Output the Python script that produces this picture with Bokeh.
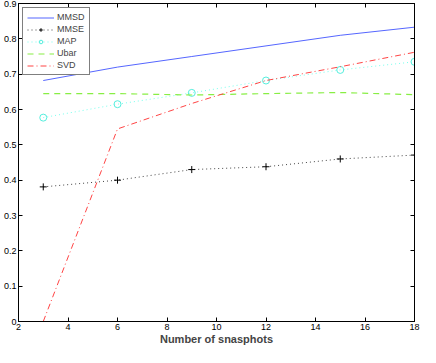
from bokeh.plotting import figure
from bokeh.models import LinearAxis, FixedTicker, Range1d, Legend
from bokeh.embed import file_html
from bokeh.resources import INLINE

snapshots = [3, 6, 9, 12, 15, 18]
mmsd = [0.682, 0.72, 0.75, 0.78, 0.81, 0.833]
mmse = [0.381, 0.400, 0.43, 0.438, 0.46, 0.471]
map_ = [0.577, 0.615, 0.647, 0.682, 0.712, 0.735]
ubar = [0.645, 0.645, 0.641, 0.645, 0.648, 0.642]
svd = [0.0, 0.545, 0.617, 0.682, 0.721, 0.762]

x_ticks = [2, 4, 6, 8, 10, 12, 14, 16, 18]
y_ticks = [0, 0.1, 0.2, 0.3, 0.4, 0.5, 0.6, 0.7, 0.8, 0.9]

FONT = "Liberation Sans"

p = figure(width=420, height=347, output_backend="svg", toolbar_location=None,
           x_range=Range1d(2, 18), y_range=Range1d(0, 0.9),
           min_border_left=0, min_border_right=6, min_border_top=3, min_border_bottom=0)
p.grid.visible = False
p.outline_line_color = "black"
p.outline_line_width = 1
p.background_fill_color = "white"

def style_axis(ax, ticks, labels=True):
    ax.axis_line_color = "black"
    ax.major_tick_in = 4
    ax.major_tick_out = 0
    ax.minor_tick_line_color = None
    ax.major_tick_line_color = "black"
    ax.major_label_text_font = FONT
    ax.major_label_text_font_size = "9px"
    ax.major_label_text_color = "black"
    if labels:
        ax.major_label_standoff = 2
    else:
        ax.major_label_overrides = {t: "" for t in ticks}
        ax.major_label_standoff = 0

p.xaxis.ticker = FixedTicker(ticks=x_ticks)
p.yaxis.ticker = FixedTicker(ticks=y_ticks)
style_axis(p.xaxis[0], x_ticks)
style_axis(p.yaxis[0], y_ticks)
p.yaxis.major_label_overrides = {0: "0"}
p.xaxis.axis_label = "Number of snasphots"
p.xaxis.axis_label_text_font = FONT
p.xaxis.axis_label_text_font_size = "11px"
p.xaxis.axis_label_text_font_style = "bold"
p.xaxis.axis_label_standoff = 0

top = LinearAxis(ticker=FixedTicker(ticks=x_ticks))
style_axis(top, x_ticks, labels=False)
p.add_layout(top, "above")
right = LinearAxis(ticker=FixedTicker(ticks=y_ticks))
style_axis(right, y_ticks, labels=False)
p.add_layout(right, "right")

r1 = p.line(snapshots, mmsd, line_color="#5566ff", line_width=1)
r2a = p.line(snapshots, mmse, line_color="#444444", line_width=1, line_dash="1 3")
r2b = p.scatter(snapshots, mmse, marker="cross", size=7, line_color="black", line_width=1)
r3a = p.line(snapshots, map_, line_color="#77ffee", line_width=1, line_dash="1 3")
r3b = p.scatter(snapshots, map_, marker="circle", size=7, line_color="#55eedd", fill_color=None, line_width=1)
r4 = p.line(snapshots, ubar, line_color="#88ee44", line_width=1.2, line_dash="6 5")
r5 = p.line(snapshots, svd, line_color="#ff4444", line_width=1, line_dash="6 3 1 3")

legend = Legend(items=[("MMSD", [r1]), ("MMSE", [r2a, r2b]), ("MAP", [r3a, r3b]),
                       ("Ubar", [r4]), ("SVD", [r5])],
                location="top_left")
legend.label_text_font = FONT
legend.label_text_font_size = "9px"
legend.label_height = 9
legend.glyph_height = 9
legend.glyph_width = 27
legend.label_standoff = 3
legend.spacing = 2
legend.padding = 4
legend.margin = 4
legend.border_line_color = "black"
legend.border_line_width = 1
legend.background_fill_alpha = 1
p.add_layout(legend, "center")

open("out.html", "w").write(file_html(p, INLINE))
